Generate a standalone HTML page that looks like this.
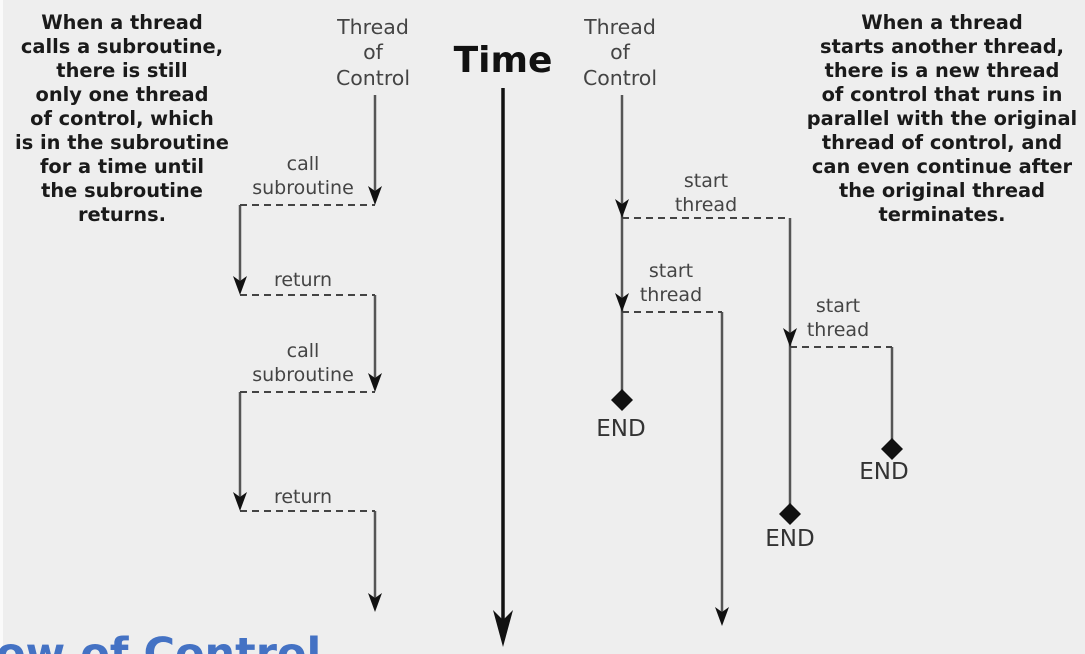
<!DOCTYPE html>
<html><head><meta charset="utf-8"><style>
html,body{margin:0;padding:0;background:#eeeeee;width:1085px;height:654px;overflow:hidden}
svg{position:absolute;left:0;top:0}
text{font-family:"DejaVu Sans","Liberation Sans",sans-serif}
.b{font-weight:bold;font-size:19.4px;fill:#1a1a1a}
.n{font-size:20.5px;fill:#444}
.s{font-size:19px;fill:#444}
.ln{stroke:#555;stroke-width:2.5;fill:none}
.d{stroke:#444;stroke-width:2;fill:none;stroke-dasharray:7,5}
</style></head><body>
<svg width="1085" height="654" viewBox="0 0 1085 654">
<rect x="0" y="0" width="3" height="654" fill="#fafafa"/>
<g text-anchor="middle" class="b">
<text x="122" y="29">When a thread</text>
<text x="122" y="53">calls a subroutine,</text>
<text x="122" y="77">there is still</text>
<text x="122" y="101">only one thread</text>
<text x="122" y="125">of control, which</text>
<text x="122" y="149">is in the subroutine</text>
<text x="122" y="173">for a time until</text>
<text x="122" y="197">the subroutine</text>
<text x="122" y="221">returns.</text>
</g>
<g text-anchor="middle" class="b">
<text x="942" y="29">When a thread</text>
<text x="942" y="53">starts another thread,</text>
<text x="942" y="77">there is a new thread</text>
<text x="942" y="101">of control that runs in</text>
<text x="942" y="125">parallel with the original</text>
<text x="942" y="149">thread of control, and</text>
<text x="942" y="173">can even continue after</text>
<text x="942" y="197">the original thread</text>
<text x="942" y="221">terminates.</text>
</g>
<g text-anchor="middle" class="n">
<text x="373" y="34">Thread</text><text x="373" y="59">of</text><text x="373" y="85">Control</text>
<text x="620" y="34">Thread</text><text x="620" y="59">of</text><text x="620" y="85">Control</text>
</g>
<text x="503" y="72" text-anchor="middle" style="font-weight:bold;font-size:36px;fill:#111">Time</text>
<g text-anchor="middle" class="s">
<text x="303" y="170">call</text><text x="303" y="194">subroutine</text>
<text x="303" y="286">return</text>
<text x="303" y="357">call</text><text x="303" y="381">subroutine</text>
<text x="303" y="503">return</text>
<text x="706" y="187">start</text><text x="706" y="211">thread</text>
<text x="671" y="277">start</text><text x="671" y="301">thread</text>
<text x="838" y="312">start</text><text x="838" y="336">thread</text>
</g>
<g text-anchor="middle" style="font-size:23px;fill:#333">
<text x="621" y="436">END</text><text x="884" y="479">END</text><text x="790" y="546">END</text>
</g>
<path class="ln" d="M375 95V200 M240 205V290 M375 295V385 M240 392V505 M375 511V607"/>
<path class="d" d="M240 205H375 M240 295H375 M240 392H375 M240 511H375"/>
<path d="M503 88V640" stroke="#111" stroke-width="3.5"/>
<path d="M493 610L503 647L513 610L503 620Z" fill="#111"/>
<path class="ln" d="M622 95V400 M790 218V514 M722 312V620 M892 347V449"/>
<path class="d" d="M622 218H790 M622 312H722 M790 347H892"/>
<g fill="#111">
<path d="M368 186L375 205L382 186L375 191Z"/>
<path d="M233 276L240 295L247 276L240 281Z"/>
<path d="M368 373L375 392L382 373L375 378Z"/>
<path d="M233 492L240 511L247 492L240 497Z"/>
<path d="M368 593L375 612L382 593L375 598Z"/>
<path d="M615 199L622 218L629 199L622 204Z"/>
<path d="M615 293L622 312L629 293L622 298Z"/>
<path d="M783 328L790 347L797 328L790 333Z"/>
<path d="M715 607L722 626L729 607L722 612Z"/>
<path d="M622 389L633 400L622 411L611 400Z"/>
<path d="M892 438L903 449L892 460L881 449Z"/>
<path d="M790 503L801 514L790 525L779 514Z"/>
</g>
<text x="-4" y="668" style="font-family:'DejaVu Sans',sans-serif;font-weight:bold;font-size:43px;fill:#4472c4">ow of Control</text>
</svg>
</body></html>
